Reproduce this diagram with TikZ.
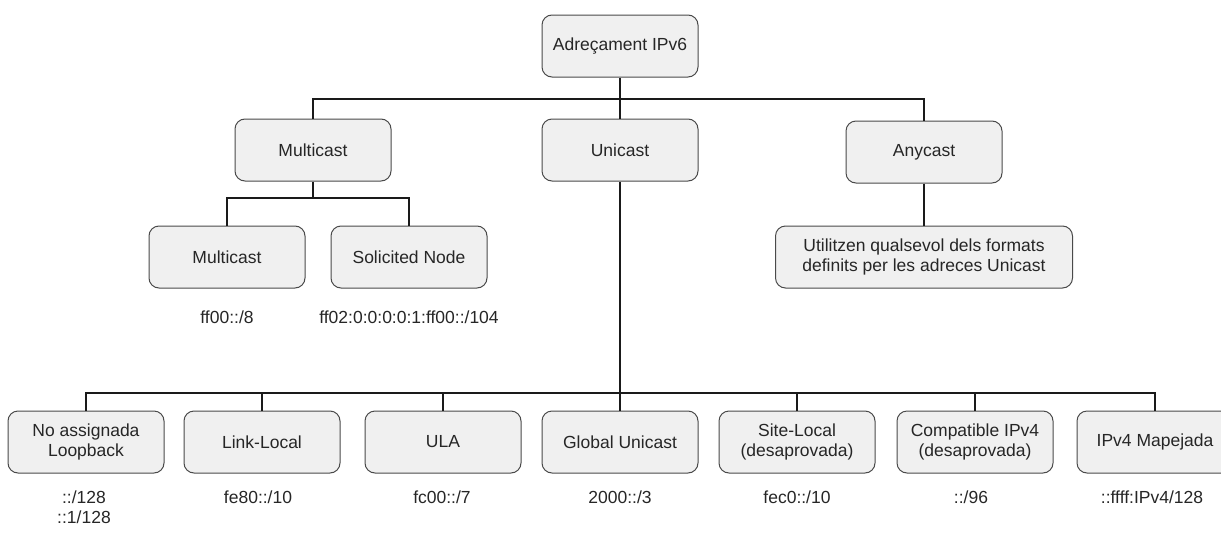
\documentclass[tikz,border=0pt]{standalone}
\usepackage{fontspec}
\setmainfont{Liberation Sans}
\definecolor{boxfill}{HTML}{F0F0F0}
\definecolor{boxline}{HTML}{4A4A4A}
\definecolor{wire}{HTML}{1A1A1A}
\definecolor{txt}{HTML}{262626}
\begin{document}
\begin{tikzpicture}[x=1pt,y=-1pt,
  box/.style={draw=boxline, line width=1pt, fill=boxfill, rounded corners=10pt,
    minimum width=156pt, minimum height=62pt, inner sep=0pt, align=center,
    text=txt, font=\fontsize{17.5}{20.5}\selectfont},
  wide/.style={box, minimum width=297pt},
  addr/.style={text=txt, align=center, inner sep=0pt, font=\fontsize{17.5}{20.5}\selectfont},
  link/.style={draw=wire, line width=2.4pt}]
\useasboundingbox (0,0) rectangle (1221,533);
\begin{scope}
\clip (0,0) rectangle (1221,533);

% junction points of the tree
\coordinate (j1) at (620,99);
\coordinate (j2) at (313,198);
\coordinate (j3) at (620,393);

% level 0
\node[box] (root) at (620,46) {Adreçament IPv6};

% level 1
\node[box] (mc) at (313,150) {Multicast};
\node[box] (uc) at (620,150) {Unicast};
\node[box] (ac) at (924,152) {Anycast};

% multicast children
\node[box] (mcm) at (227,257) {Multicast};
\node[box] (mcs) at (409,257) {Solicited Node};
\node[addr] (amcm) at (227,317) {ff00::/8};
\node[addr] (amcs) at (409,317) {ff02:0:0:0:0:1:ff00::/104};

% anycast note
\node[wide] (acd) at (924,257) {Utilitzen qualsevol dels formats\\definits per les adreces Unicast};

% unicast children
\node[box] (u1) at (86,442) {No assignada\\Loopback};
\node[box] (u2) at (262,442) {Link-Local};
\node[box] (u3) at (443,442) {ULA};
\node[box] (u4) at (620,442) {Global Unicast};
\node[box] (u5) at (797,442) {Site-Local\\(desaprovada)};
\node[box] (u6) at (975,442) {Compatible IPv4\\(desaprovada)};
\node[box] (u7) at (1155,442) {IPv4 Mapejada};

\node[addr] (a1) at (84,507) {::/128\\::1/128};
\node[addr] (a2) at (258,497) {fe80::/10};
\node[addr] (a3) at (442,497) {fc00::/7};
\node[addr] (a4) at (620,497) {2000::/3};
\node[addr] (a5) at (797,497) {fec0::/10};
\node[addr] (a6) at (971,497) {::/96};
\node[addr] (a7) at (1152,497) {::ffff:IPv4/128};

% connectors
\draw[link] (root.south) -- (uc.north);
\draw[link] (mc.north) |- (j1) -| (ac.north);
\draw[link] (mc.south) -- (j2);
\draw[link] (mcm.north) |- (j2) -| (mcs.north);
\draw[link] (ac.south) -- (acd.north);
\draw[link] (uc.south) -- (u4.north);
\draw[link] (u1.north) |- (j3) -| (u7.north);
\foreach \n in {u2,u3,u5,u6}
  \draw[link] (\n.north) -- (\n.north |- j3);
\end{scope}
\end{tikzpicture}
\end{document}
